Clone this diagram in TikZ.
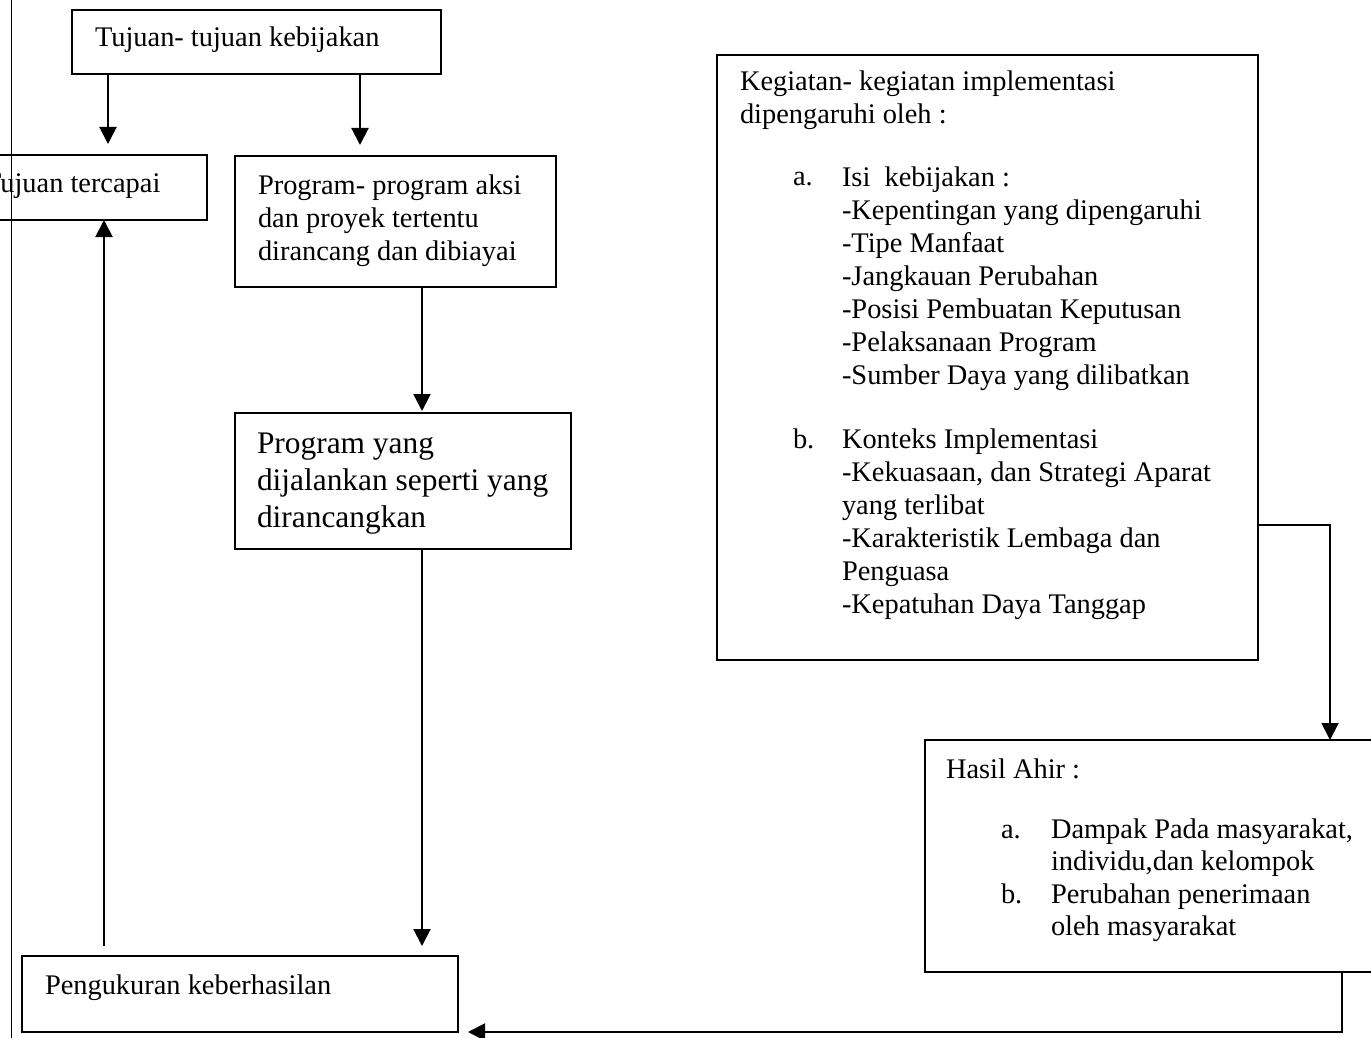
\documentclass[tikz,border=0pt]{standalone}
\usepackage{fontspec}
\setmainfont{Liberation Serif}
\usetikzlibrary{arrows.meta}
\begin{document}
\begin{tikzpicture}[x=1pt,y=-1pt,
  box/.style={draw, line width=2.8pt, inner sep=0pt, outer sep=0pt, anchor=north west},
  arr/.style={line width=2pt, -{Triangle[length=17pt,width=17pt]}},
  txt/.style={inner sep=0pt, outer sep=0pt, anchor=north west, align=left, font=\fontsize{28.4}{33}\selectfont},
  txtb/.style={inner sep=0pt, outer sep=0pt, anchor=north west, align=left, font=\fontsize{31.4}{37}\selectfont},
  txth/.style={inner sep=0pt, outer sep=0pt, anchor=north west, align=left, font=\fontsize{28.4}{32.5}\selectfont}]
\fill[white] (0,0) rectangle (1371,1038);
\useasboundingbox (0,0) rectangle (1371,1038);
% page edge line
\draw[line width=1pt] (11,0) -- (11,1038);

% boxes
\node[box, minimum width=369pt, minimum height=64pt] (tk) at (72,10) {};
\node[box, minimum width=217pt, minimum height=65pt] (tt) at (-10,155) {};
\node[box, minimum width=321pt, minimum height=131pt] (p1) at (235,156) {};
\node[box, minimum width=336pt, minimum height=136pt] (p2) at (235,413) {};
\node[box, minimum width=436pt, minimum height=76pt] (pk) at (22,956) {};
\node[box, minimum width=541pt, minimum height=605pt] (kg) at (717,55) {};
\node[box, minimum width=460pt, minimum height=232pt] (ha) at (925,740) {};

% texts
\node[txt] (tkt) at (95,23.9) {\strut Tujuan- tujuan kebijakan};
\node[txt] (ttt) at (-16,168.9) {\strut Tujuan tercapai};
\node[txt] (p1t) at (258,170.9) {\strut Program- program aksi\\dan proyek tertentu\\dirancang dan dibiayai};
\node[txtb] (p2t) at (257,427.1) {\strut Program yang\\dijalankan seperti yang\\dirancangkan};
\node[txt] (pkt) at (45,970.9) {\strut Pengukuran keberhasilan};
\node[txt] (kgt) at (740,67.9) {\strut Kegiatan- kegiatan implementasi\\dipengaruhi oleh :};
\node[txt] (kgal) at (793,162.9) {\strut a.};
\node[txt] (kgat) at (842,162.9) {\strut Isi\ \ kebijakan :\\-Kepentingan yang dipengaruhi\\-Tipe Manfaat\\-Jangkauan Perubahan\\-Posisi Pembuatan Keputusan\\-Pelaksanaan Program\\-Sumber Daya yang dilibatkan};
\node[txt] (kgbl) at (793,424.9) {\strut b.};
\node[txt] (kgbt) at (842,424.9) {\strut Konteks Implementasi\\-Kekuasaan, dan Strategi Aparat\\yang terlibat\\-Karakteristik Lembaga dan\\Penguasa\\-Kepatuhan Daya Tanggap};
\node[txth] (hat) at (946,755.9) {\strut Hasil Ahir :};
\node[txth] (haal) at (1001,815.25) {\strut a.};
\node[txth] (haat) at (1051,815.25) {\strut Dampak Pada masyarakat,\\individu,dan kelompok};
\node[txth] (habl) at (1001,880.25) {\strut b.};
\node[txth] (habt) at (1051,880.25) {\strut Perubahan penerimaan\\oleh masyarakat};

% connector coordinates
\coordinate (xa) at (108,0);
\coordinate (xb) at (360,0);
\coordinate (xc) at (422,0);
\coordinate (xd) at (104,0);
\coordinate (up) at (104,946);
\coordinate (ya) at (0,525);
\coordinate (xe) at (1330,0);
\coordinate (xf) at (1342,0);

% connectors
\draw[arr, shorten >=11pt] (tk.south -| xa) -- (tt.north -| xa);
\draw[arr, shorten >=11pt] (tk.south -| xb) -- (p1.north -| xb);
\draw[arr, shorten >=2pt] (p1.south -| xc) -- (p2.north -| xc);
\draw[arr, shorten >=10pt] (p2.south -| xc) -- (pk.north -| xc);
\draw[arr] (up) -- (tt.south -| xd);
\draw[arr] (kg.east |- ya) -| (ha.north -| xe);
\draw[arr, shorten >=10pt] (ha.south -| xf) |- (pk.south east);
\end{tikzpicture}
\end{document}
